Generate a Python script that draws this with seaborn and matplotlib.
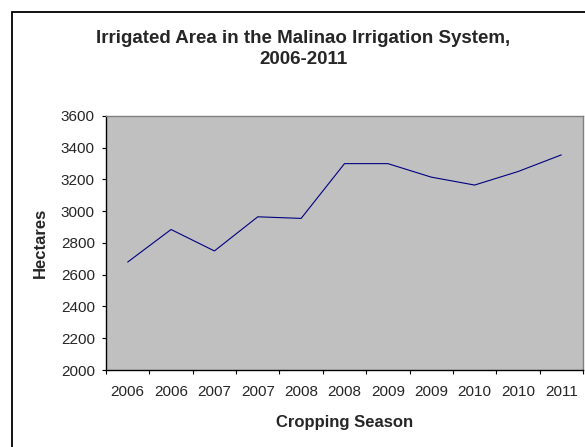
import matplotlib
matplotlib.use("Agg")
import matplotlib.pyplot as plt
import seaborn as sns
import pandas as pd
from matplotlib.patches import Rectangle

# data
seasons = ["2006", "2006", "2007", "2007", "2008", "2008",
           "2009", "2009", "2010", "2010", "2011"]
hectares = [2680, 2885, 2750, 2965, 2955, 3300,
            3300, 3215, 3165, 3250, 3355]

df = pd.DataFrame({"pos": range(len(seasons)), "season": seasons, "hectares": hectares})

sns.set_style("white")
plt.rcParams["font.family"] = ["Liberation Sans", "DejaVu Sans"]

W, H = 585, 447
fig = plt.figure(figsize=(W / 100, H / 100), dpi=100)
ax = fig.add_axes([106 / W, 1 - 370 / H, (583 - 106) / W, (370 - 116) / H])

# chart area border (Excel style), runs off the right and bottom edge
fig.patches.append(Rectangle((12 / W, -0.05), 1.0, 1 - 12 / H + 0.05,
                             transform=fig.transFigure, fill=False,
                             edgecolor="black", linewidth=1.3))

ax.set_facecolor("#c0c0c0")
sns.lineplot(data=df, x="pos", y="hectares", ax=ax, color="#000080", linewidth=0.8)

ax.set_ylim(2000, 3600)
ax.set_yticks(range(2000, 3601, 200))
ax.set_xlim(-0.5, len(seasons) - 0.5)
ax.set_xticks([i - 0.5 for i in range(len(seasons) + 1)])
ax.set_xticklabels([])
ax.set_xticks(df["pos"], minor=True)
ax.set_xticklabels(seasons, minor=True)
ax.tick_params(axis="x", which="minor", length=0, pad=11, labelsize=11)
ax.tick_params(axis="x", which="major", direction="out", length=3, width=0.8, color="black", bottom=True)
ax.tick_params(axis="y", direction="out", length=3, width=0.8, color="black", left=True, labelsize=11, pad=5)

for s in ["top", "right"]:
    ax.spines[s].set_color("#808080")
    ax.spines[s].set_linewidth(1.0)
for s in ["left", "bottom"]:
    ax.spines[s].set_color("black")
    ax.spines[s].set_linewidth(1.0)

ax.set_xlabel("Cropping Season", fontsize=12, fontweight="bold", va="center")
ax.xaxis.set_label_coords(0.5, (370 - 423) / 254)
ax.set_ylabel("Hectares", fontsize=12, fontweight="bold", va="center", ha="center")
ax.yaxis.set_label_coords((40 - 106) / 477, 0.5)

fig.text(303 / W, 1 - 49 / H,
         "Irrigated Area in the Malinao Irrigation System,\n2006-2011",
         ha="center", va="center", fontsize=13.5, fontweight="bold", linespacing=1.3)

fig.savefig("out.png", dpi=100)
